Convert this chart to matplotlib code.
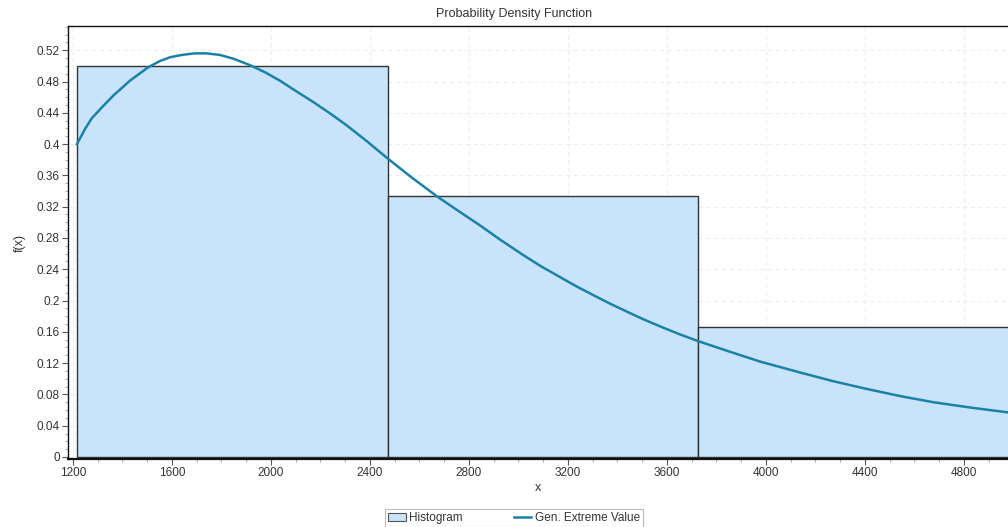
import matplotlib
matplotlib.use("Agg")
import matplotlib.pyplot as plt
from matplotlib.ticker import MultipleLocator, FuncFormatter
from matplotlib.patches import Patch
from matplotlib.lines import Line2D

# Histogram bins (left edges, common width) and densities
bin_lefts = [1216, 2471, 3726]
bin_width = 1255
bin_heights = [0.5, 0.3333, 0.1667]

# Fitted Gen. Extreme Value density
pdf_x = [1216, 1250, 1276, 1320, 1363, 1430, 1503, 1550, 1592, 1640, 1690, 1740, 1794,
         1850, 1915, 1975, 2037, 2100, 2170, 2240, 2306, 2390, 2474, 2570, 2676, 2760,
         2845, 2930, 3020, 3090, 3168, 3235, 3302, 3370, 3437, 3505, 3572, 3650, 3727,
         3850, 3976, 4138, 4270, 4407, 4540, 4676, 4830, 4978]
pdf_y = [0.400, 0.420, 0.433, 0.448, 0.462, 0.481, 0.498, 0.506, 0.511, 0.514, 0.516, 0.516, 0.514,
         0.509, 0.501, 0.492, 0.481, 0.468, 0.454, 0.439, 0.424, 0.403, 0.381, 0.357, 0.332, 0.314,
         0.296, 0.277, 0.258, 0.244, 0.230, 0.218, 0.207, 0.196, 0.186, 0.176, 0.167, 0.157, 0.148,
         0.135, 0.122, 0.108, 0.097, 0.087, 0.078, 0.070, 0.063, 0.057]

title = "Probability Density Function"
x_label = "x"
y_label = "f(x)"
legend_labels = ["Histogram", "Gen. Extreme Value"]

bar_fill = "#C9E3FA"
bar_edge = "#333333"
line_color = "#1A82A6"
text_color = "#333333"

plt.rcParams["font.family"] = ["Liberation Sans", "DejaVu Sans"]

fig = plt.figure(figsize=(10.08, 5.27), dpi=100)
W, H = 1008, 527
ax = fig.add_axes([68 / W, 1 - 459 / H, (W - 68) / W, (459 - 26) / H])

ax.set_axisbelow(True)
ax.grid(True, which="major", color="#EDEDED", linestyle=(0, (4, 3)), linewidth=0.8)

ax.bar(bin_lefts, bin_heights, width=bin_width, align="edge",
       color=bar_fill, edgecolor=bar_edge, linewidth=1.0, zorder=2)
ax.plot(pdf_x, pdf_y, color=line_color, linewidth=1.8, zorder=3,
        solid_joinstyle="round")

ax.set_xlim(1180, 4978)
ax.set_ylim(-0.0026, 0.551)

ax.xaxis.set_major_locator(MultipleLocator(400))
ax.xaxis.set_minor_locator(MultipleLocator(100))
ax.yaxis.set_major_locator(MultipleLocator(0.04))
ax.yaxis.set_minor_locator(MultipleLocator(0.01))
ax.yaxis.set_major_formatter(FuncFormatter(lambda v, p: "%g" % round(v, 4)))
ax.xaxis.set_major_formatter(FuncFormatter(lambda v, p: "%d" % v))

ax.tick_params(axis="both", which="major", length=4, width=0.8, color="#555555",
               labelsize=8.5, labelcolor=text_color, pad=2)
ax.tick_params(axis="both", which="minor", length=2, width=0.6, color="#999999")

for side in ["left", "bottom", "top"]:
    ax.spines[side].set_color("#111111")
    ax.spines[side].set_linewidth(1.0)
ax.spines["bottom"].set_linewidth(1.6)
ax.spines["right"].set_visible(False)

ax.set_xlabel(x_label, fontsize=9, color=text_color, labelpad=2)
ax.set_ylabel(y_label, fontsize=9, color=text_color, labelpad=8)
fig.text(514 / W, 1 - 14 / H, title, ha="center", va="center", fontsize=9, color=text_color)

handles = [Patch(facecolor=bar_fill, edgecolor="#555555", linewidth=0.8),
           Line2D([0], [0], color=line_color, linewidth=1.8)]
leg = fig.legend(handles, legend_labels, loc="center", bbox_to_anchor=(514 / W, 1 - 518 / H),
                 ncol=2, fontsize=8.5, frameon=True, fancybox=False, columnspacing=4.3,
                 handlelength=1.5, handletextpad=0.3, borderpad=0.25, edgecolor="#AAAAAA")
leg.get_frame().set_linewidth(0.8)
for t in leg.get_texts():
    t.set_color(text_color)

fig.savefig("out.png", dpi=100)
